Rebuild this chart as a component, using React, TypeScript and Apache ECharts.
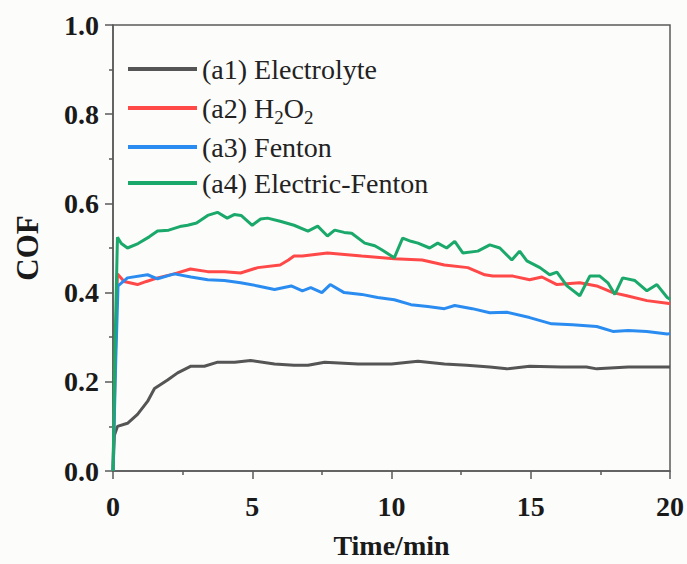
import React, { useEffect, useRef } from "react";
import * as echarts from "echarts";

// Friction coefficient traces (time in min, COF)
const electrolyteTime = [0, 0.05, 0.16, 0.52, 0.88, 1.24, 1.49, 1.96, 2.32, 2.8, 3.28, 3.76, 4.37, 4.94, 5.8, 6.5, 7.0, 7.6, 8.8, 10.0, 10.6, 10.95, 11.9, 12.7, 13.53, 14.14, 14.96, 16.1, 17.0, 17.37, 18.5, 19.9, 20];
const electrolyteCof = [0, 0.08, 0.1, 0.107, 0.127, 0.156, 0.185, 0.204, 0.22, 0.235, 0.235, 0.244, 0.244, 0.248, 0.24, 0.237, 0.237, 0.244, 0.24, 0.24, 0.244, 0.246, 0.24, 0.237, 0.233, 0.229, 0.235, 0.233, 0.233, 0.229, 0.233, 0.233, 0.233];

const h2o2Time = [0, 0.1, 0.16, 0.4, 0.88, 1.2, 1.6, 2.2, 2.78, 3.4, 4.0, 4.58, 5.2, 6.0, 6.3, 6.5, 6.8, 7.7, 8.93, 10.1, 11.1, 11.9, 12.74, 13.35, 13.64, 14.36, 14.96, 15.4, 15.94, 16.76, 17.37, 17.95, 18.45, 19.17, 19.9, 20];
const h2o2Cof = [0, 0.3, 0.442, 0.425, 0.418, 0.425, 0.433, 0.442, 0.453, 0.447, 0.447, 0.444, 0.456, 0.462, 0.473, 0.482, 0.482, 0.489, 0.482, 0.476, 0.473, 0.462, 0.456, 0.44, 0.437, 0.437, 0.429, 0.435, 0.418, 0.422, 0.415, 0.4, 0.393, 0.382, 0.376, 0.375];

const fentonTime = [0, 0.1, 0.18, 0.52, 1.24, 1.6, 2.2, 2.8, 3.4, 4.0, 4.58, 5.2, 5.8, 6.4, 6.8, 7.1, 7.5, 7.8, 8.3, 8.93, 9.5, 10.1, 10.7, 11.3, 11.9, 12.27, 12.9, 13.53, 14.14, 14.96, 15.75, 16.5, 17.37, 17.95, 18.5, 19.17, 19.9, 20];
const fentonCof = [0, 0.25, 0.415, 0.433, 0.44, 0.431, 0.442, 0.435, 0.429, 0.427, 0.422, 0.415, 0.407, 0.415, 0.404, 0.411, 0.4, 0.418, 0.4, 0.396, 0.389, 0.384, 0.373, 0.369, 0.364, 0.371, 0.364, 0.355, 0.356, 0.344, 0.33, 0.328, 0.324, 0.313, 0.315, 0.313, 0.307, 0.308];

const electricFentonTime = [0, 0.08, 0.16, 0.3, 0.52, 0.9, 1.3, 1.6, 2.0, 2.4, 2.68, 3.0, 3.4, 3.75, 4.1, 4.35, 4.6, 5.0, 5.3, 5.55, 6.0, 6.5, 7.0, 7.35, 7.7, 7.96, 8.3, 8.57, 9.04, 9.4, 9.65, 10.1, 10.4, 10.7, 10.95, 11.37, 11.66, 11.98, 12.27, 12.56, 13.1, 13.53, 13.89, 14.32, 14.6, 14.86, 15.33, 15.68, 15.94, 16.3, 16.76, 17.12, 17.48, 17.77, 18.02, 18.3, 18.74, 19.17, 19.53, 19.9, 20];
const electricFentonCof = [0, 0.3, 0.524, 0.51, 0.5, 0.51, 0.525, 0.538, 0.54, 0.548, 0.551, 0.556, 0.573, 0.58, 0.567, 0.575, 0.573, 0.551, 0.565, 0.567, 0.56, 0.551, 0.538, 0.549, 0.527, 0.54, 0.535, 0.533, 0.511, 0.505, 0.496, 0.478, 0.522, 0.515, 0.511, 0.5, 0.511, 0.5, 0.515, 0.489, 0.493, 0.507, 0.5, 0.473, 0.493, 0.471, 0.456, 0.44, 0.446, 0.415, 0.393, 0.437, 0.437, 0.422, 0.396, 0.433, 0.427, 0.404, 0.418, 0.389, 0.385];

const seriesNames = ["(a1) Electrolyte", "(a2) H2O2", "(a3) Fenton", "(a4) Electric-Fenton"];
const seriesColors = ["#555555", "#ff4848", "#2a8cf0", "#1aa96a"];
const xTicks = [0, 5, 10, 15, 20];
const yTicks = [0, 0.2, 0.4, 0.6, 0.8, 1.0];

const zip = (t: number[], v: number[]) => t.map((x, i) => [x, v[i]]);

const FONT = "'Liberation Serif', 'Times New Roman', serif";
const AXIS_COLOR = "#5a5a5a";

export default function App() {
  const ref = useRef<HTMLDivElement>(null);

  useEffect(() => {
    if (!ref.current) return;
    const chart = echarts.init(ref.current, undefined, { renderer: "svg" });
    const data = [
      zip(electrolyteTime, electrolyteCof),
      zip(h2o2Time, h2o2Cof),
      zip(fentonTime, fentonCof),
      zip(electricFentonTime, electricFentonCof),
    ];

    const axisCommon = {
      axisLine: { show: true, lineStyle: { color: AXIS_COLOR, width: 1.5 } },
      axisTick: { show: true, inside: false, length: 8, lineStyle: { color: AXIS_COLOR, width: 1.5 } },
      minorTick: { show: true, splitNumber: 2, length: 4, lineStyle: { color: AXIS_COLOR, width: 1.5 } },
      splitLine: { show: false },
    };
    const tickLabel = {
      fontFamily: FONT,
      fontWeight: "bold" as const,
      fontSize: 28,
      color: "#1a1a1a",
    };

    chart.setOption({
      animation: false,
      backgroundColor: "#fcfcfa",
      grid: {
        left: 113,
        right: 17,
        top: 25,
        bottom: 89,
        show: true,
        borderColor: AXIS_COLOR,
        borderWidth: 1.5,
        backgroundColor: "transparent",
      },
      legend: {
        orient: "vertical",
        left: 128,
        top: 53,
        padding: 0,
        icon: "rect",
        itemWidth: 69,
        itemHeight: 4,
        itemGap: 4,
        data: seriesNames,
        textStyle: {
          fontFamily: FONT,
          fontSize: 28,
          color: "#222",
          lineHeight: 32,
          rich: {
            sub: { fontFamily: FONT, fontSize: 19, color: "#222", padding: [19, 0, 0, 0], lineHeight: 13 },
          },
        },
        formatter: (name: string) =>
          name === "(a2) H2O2" ? "(a2) H{sub|2}O{sub|2}" : name,
      },
      xAxis: {
        type: "value",
        min: xTicks[0],
        max: xTicks[xTicks.length - 1],
        interval: xTicks[1] - xTicks[0],
        name: "Time/min",
        nameLocation: "middle",
        nameGap: 60,
        nameTextStyle: { fontFamily: FONT, fontWeight: "bold", fontSize: 28, color: "#1a1a1a" },
        ...axisCommon,
        axisLabel: { margin: 21, ...tickLabel },
      },
      yAxis: {
        type: "value",
        min: yTicks[0],
        max: yTicks[yTicks.length - 1],
        interval: 0.2,
        name: "COF",
        nameLocation: "middle",
        nameGap: 70,
        nameTextStyle: { fontFamily: FONT, fontWeight: "bold", fontSize: 31, color: "#1a1a1a" },
        ...axisCommon,
        axisLabel: {
          margin: 14,
          ...tickLabel,
          formatter: (v: number) => v.toFixed(1),
        },
      },
      series: data.map((d, i) => ({
        name: seriesNames[i],
        type: "line",
        data: d,
        symbol: "none",
        color: seriesColors[i],
        lineStyle: { width: 3, color: seriesColors[i] },
        z: 2 + i,
      })),
    });

    return () => chart.dispose();
  }, []);

  return (
    <div
      ref={ref}
      style={{ position: "fixed", left: 0, top: 0, width: 687, height: 564 }}
    />
  );
}
